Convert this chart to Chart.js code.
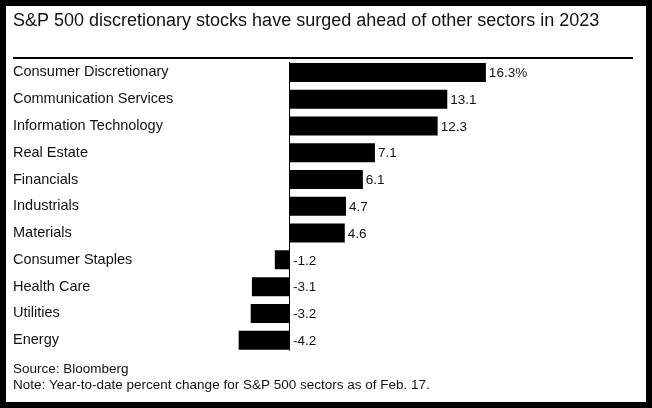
<!DOCTYPE html>
<html>
<head>
<meta charset="utf-8">
<script src="https://cdn.jsdelivr.net/npm/chart.js@4"></script>
<style>
  html, body { margin: 0; padding: 0; background: #fff; }
  #wrap { position: absolute; left: 0; top: 0; width: 652px; height: 408px; }
  #frame { position: absolute; left: 0; top: 0; width: 652px; height: 408px; box-sizing: border-box;
           border-style: solid; border-color: #000; border-width: 6px 6px 6px 6px; pointer-events: none; }
</style>
</head>
<body>
<div id="wrap"><canvas id="c" width="652" height="408"></canvas></div>
<div id="frame"></div>
<script>
const titleText = 'S&P 500 discretionary stocks have surged ahead of other sectors in 2023';
const footerLines = ['Source: Bloomberg', 'Note: Year-to-date percent change for S&P 500 sectors as of Feb. 17.'];
const categories = ['Consumer Discretionary', 'Communication Services', 'Information Technology', 'Real Estate',
  'Financials', 'Industrials', 'Materials', 'Consumer Staples', 'Health Care', 'Utilities', 'Energy'];
const values = [16.3, 13.1, 12.3, 7.1, 6.1, 4.7, 4.6, -1.2, -3.1, -3.2, -4.2];
const valueLabels = ['16.3%', '13.1', '12.3', '7.1', '6.1', '4.7', '4.6', '-1.2', '-3.1', '-3.2', '-4.2'];

const FONT = "'Liberation Sans', Arial, Helvetica, sans-serif";
const INK = '#111111';

const decorPlugin = {
  id: 'decor',
  afterDraw(chart) {
    const ctx = chart.ctx;
    const ca = chart.chartArea;
    const tb = chart.titleBlock;
    ctx.save();
    // rule under title
    ctx.fillStyle = '#000';
    ctx.fillRect(tb.left, ca.top - 2, tb.width, 2);
    ctx.restore();
  },
  afterDatasetsDraw(chart) {
    const ctx = chart.ctx;
    const ca = chart.chartArea;
    const xs = chart.scales.x;
    const zero = Math.round(xs.getPixelForValue(0)) + 0.5;
    ctx.save();
    ctx.strokeStyle = '#000';
    ctx.lineWidth = 1;
    ctx.beginPath();
    ctx.moveTo(zero, ca.top + 3);
    ctx.lineTo(zero, ca.bottom - 3);
    ctx.stroke();
    const meta = chart.getDatasetMeta(0);
    ctx.fillStyle = INK;
    ctx.font = '13.5px ' + FONT;
    ctx.textAlign = 'left';
    ctx.textBaseline = 'middle';
    meta.data.forEach((bar, i) => {
      const v = values[i];
      const x = v >= 0 ? bar.x + 3 : zero + 3.5;
      ctx.fillText(valueLabels[i], x, bar.y + 1);
    });
    ctx.restore();
  }
};

new Chart(document.getElementById('c'), {
  type: 'bar',
  data: {
    labels: categories,
    datasets: [{
      data: values,
      backgroundColor: '#000',
      borderWidth: 0,
      barPercentage: 0.71,
      categoryPercentage: 1.0
    }]
  },
  options: {
    indexAxis: 'y',
    responsive: false,
    animation: false,
    devicePixelRatio: 1,
    layout: { padding: { left: 13, right: 19, top: 6, bottom: 15 } },
    plugins: {
      legend: { display: false },
      tooltip: { enabled: false },
      title: {
        display: true,
        text: titleText,
        align: 'start',
        color: INK,
        font: { family: FONT, size: 18, weight: 'normal', lineHeight: 1.2 },
        padding: { top: 4, bottom: 27.4 }
      },
      subtitle: {
        display: true,
        position: 'bottom',
        text: footerLines,
        align: 'start',
        color: INK,
        font: { family: FONT, size: 13.5, weight: 'normal', lineHeight: 16 / 13.5 },
        padding: { top: 7.4, bottom: 0 }
      }
    },
    scales: {
      x: { display: false, min: -5, max: 28.5 },
      y: {
        display: true,
        grid: { display: false },
        border: { display: false },
        afterFit(scale) { scale.width = 216; },
        ticks: {
          crossAlign: 'far',
          color: INK,
          padding: 0,
          font: { family: FONT, size: 14.5, weight: 'normal' }
        }
      }
    }
  },
  plugins: [decorPlugin]
});
</script>
</body>
</html>
